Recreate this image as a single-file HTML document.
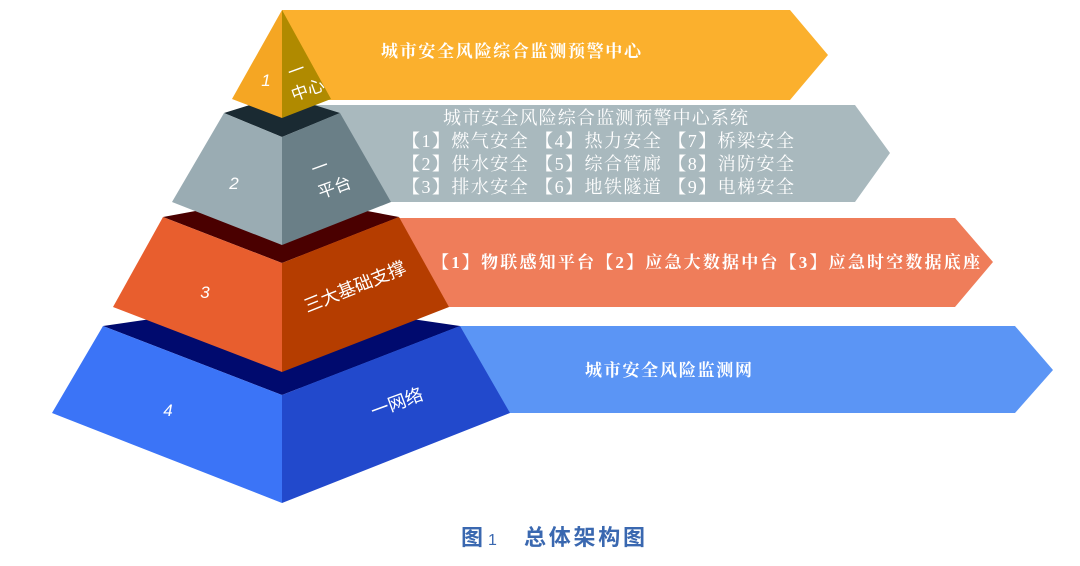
<!DOCTYPE html>
<html><head><meta charset="utf-8"><style>
html,body{margin:0;padding:0;background:#fff;width:1080px;height:566px;overflow:hidden}
svg{display:block}
.s{font-family:"Liberation Serif","Noto Serif CJK SC",serif;fill:#fff}
.h{font-family:"Liberation Sans","Noto Sans CJK SC",sans-serif;fill:#fff}
</style></head><body>
<svg width="1080" height="566" viewBox="0 0 1080 566" xmlns="http://www.w3.org/2000/svg">
<polygon points="282,10 790,10 828,55 790,100 282,100" fill="#fbb02d"/>
<polygon points="300,105 855,105 890,153 855,202 300,202" fill="#a9b9be"/>
<polygon points="300,218 955,218 993,262 955,307 300,307" fill="#ef7d5a"/>
<polygon points="300,326 1015,326 1053,370 1015,413 300,413" fill="#5b95f5"/>
<polygon points="103,326 282,300 460,326 282,395" fill="#000a6e"/>
<polygon points="103,326 282,395 282,503 52,413" fill="#3b74f7"/>
<polygon points="460,326 282,395 282,503 510,413" fill="#2249cc"/>
<polygon points="163,217 282,195 399,217 282,263" fill="#4a0000"/>
<polygon points="163,217 282,263 282,372 113,307" fill="#e85e2e"/>
<polygon points="399,217 282,263 282,372 449,307" fill="#b53d00"/>
<polygon points="224,113 282,95 340,113 282,137" fill="#1a2a32"/>
<polygon points="224,113 282,137 282,245 172,202" fill="#9aacb3"/>
<polygon points="340,113 282,137 282,245 391,202" fill="#6a7f87"/>
<polygon points="282,10 282,118 232,99" fill="#f5a623"/>
<polygon points="282,10 282,118 331,99" fill="#b08a00"/>
<text class="h" x="266" y="86" font-size="17" font-style="italic" text-anchor="middle">1</text>
<text class="h" x="234" y="189" font-size="17" font-style="italic" text-anchor="middle">2</text>
<text class="h" x="205" y="298" font-size="17" font-style="italic" text-anchor="middle">3</text>
<text class="h" x="168" y="416" font-size="17" font-style="italic" text-anchor="middle">4</text>
<g transform="rotate(-20 302 80)"><text class="h" x="300" y="75" font-size="17" text-anchor="middle">一</text><text class="h" x="304" y="97" font-size="17" text-anchor="middle">中心</text></g>
<g transform="rotate(-20 328 178)"><text class="h" x="324" y="171" font-size="17" text-anchor="middle">一</text><text class="h" x="331" y="195" font-size="17" text-anchor="middle">平台</text></g>
<text class="h" x="355" y="293" font-size="18" text-anchor="middle" transform="rotate(-22 355 287)">三大基础支撑</text>
<text class="h" x="397" y="409" font-size="18" text-anchor="middle" transform="rotate(-20 397 403)">一网络</text>
<text class="s" x="381" y="57" font-size="17" font-weight="bold" textLength="260">城市安全风险综合监测预警中心</text>
<text class="s" x="443" y="124" font-size="18" textLength="305">城市安全风险综合监测预警中心系统</text>
<text class="s" x="402" y="147" font-size="18" textLength="392">【1】燃气安全 【4】热力安全 【7】桥梁安全</text>
<text class="s" x="402" y="170" font-size="18" textLength="392">【2】供水安全 【5】综合管廊 【8】消防安全</text>
<text class="s" x="402" y="193" font-size="18" textLength="392">【3】排水安全 【6】地铁隧道 【9】电梯安全</text>
<text class="s" x="432" y="268" font-size="17" font-weight="bold" textLength="548">【1】物联感知平台【2】应急大数据中台【3】应急时空数据底座</text>
<text class="s" x="585" y="376" font-size="17" font-weight="bold" textLength="167">城市安全风险监测网</text>
<text x="461" y="545" font-size="22" font-weight="bold" fill="#3a68b0" font-family="Liberation Sans,Noto Sans CJK SC,sans-serif">图</text>
<text x="488" y="545" font-size="16" fill="#3a68b0" font-family="Liberation Sans,sans-serif">1</text>
<text x="524" y="545" font-size="22" font-weight="bold" fill="#3a68b0" font-family="Liberation Sans,Noto Sans CJK SC,sans-serif" textLength="121">总体架构图</text>
</svg>
</body></html>
